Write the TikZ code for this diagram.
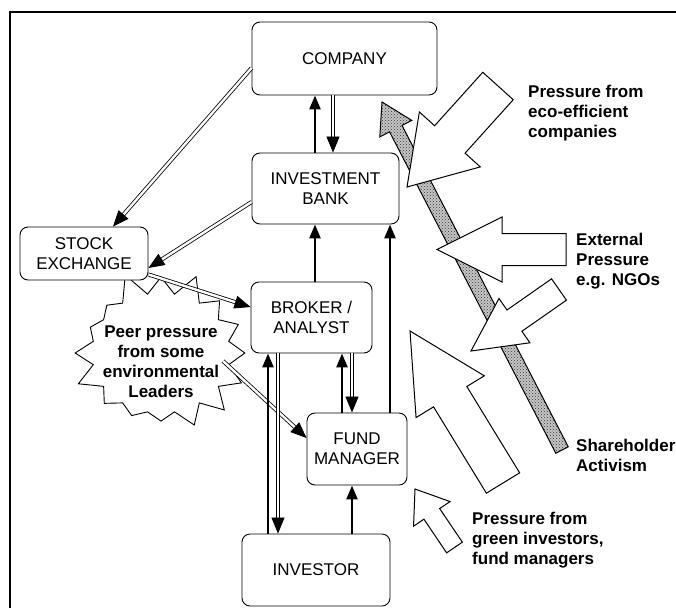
\documentclass[tikz,border=0pt]{standalone}
\usepackage{fontspec}
\setmainfont{Liberation Sans}
\usetikzlibrary{arrows.meta, shapes.symbols, positioning, calc, patterns}

\tikzset{
  box/.style={rectangle, draw, fill=white, rounded corners=8pt, line width=0.9pt, align=center, inner sep=0pt, font=\fontsize{17}{20}\selectfont},
  flow/.style={line width=2.6pt, -{Triangle[length=14pt,width=11pt]}},
  dflow/.style={double, double distance=2.4pt, line width=0.8pt, -{Triangle[length=16pt,width=13pt]}},
  blockarrow/.style={draw, fill=white, line width=1pt, line join=miter},
  activism/.style={draw, line width=1pt, preaction={fill=black!22}, pattern=crosshatch dots, pattern color=black!80},
  note/.style={align=left, inner sep=0pt, font=\bfseries\fontsize{17}{20}\selectfont},
}

% #2 tail, #3 tip, #4 half shaft, #5 half head, #6 head length
\newcommand\pressurearrow[6][blockarrow]{%
  \coordinate (hb) at ($(#3)!#6!(#2)$);
  \draw[#1] ($(#2)!#4!-90:(#3)$) -- ($(hb)!#4!90:(#2)$) -- ($(hb)!#5!90:(#2)$) -- (#3)
    -- ($(hb)!#5!-90:(#2)$) -- ($(hb)!#4!-90:(#2)$) -- ($(#2)!#4!90:(#3)$) -- cycle;
}

\begin{document}
\begin{tikzpicture}[x=1pt, y=-1pt]
  \useasboundingbox (0,0) rectangle (676,608);
  \draw[line width=1.2pt] (10,608) -- (10,12) -- (676,12);

  \node[starburst, draw, fill=white, line width=0.9pt, minimum width=190pt, minimum height=172pt,
    starburst points=16, starburst point height=26pt, random starburst=5, inner sep=0pt] (peer) at (161,353) {};
  \node[note, align=center] (peertext) at (161,361.5) {Peer pressure\\from some\\environmental\\Leaders};

  \node[box, minimum width=185pt, minimum height=73pt] (company) at (344.5,58.5) {COMPANY};
  \node[box, minimum width=147pt, minimum height=71pt] (bank) at (325.5,188.5) {INVESTMENT\\BANK};
  \node[box, minimum width=128pt, minimum height=53pt] (exchange) at (84,253.5) {STOCK\\EXCHANGE};
  \node[box, minimum width=121pt, minimum height=71pt] (broker) at (311.5,317.5) {BROKER /\\ANALYST};
  \node[box, minimum width=100pt, minimum height=72pt] (fund) at (357,449) {FUND\\MANAGER};
  \node[box, minimum width=148pt, minimum height=72pt] (investor) at (316,570) {INVESTOR};

  \draw[flow] ([xshift=-10.5pt]bank.north) -- ([xshift=-10.5pt]bank.north |- company.south);
  \draw[dflow] ([xshift=-11.5pt]company.south) -- ([xshift=-11.5pt]company.south |- bank.north);
  \draw[dflow] ([yshift=-9.5pt]company.west) -- ([xshift=29pt]exchange.north);
  \draw[dflow] ([yshift=-13.5pt]bank.west) -- ([yshift=-14.5pt]exchange.east);
  \draw[flow] ([xshift=3.5pt]broker.north) -- ([xshift=3.5pt]broker.north |- bank.south);
  \draw[flow] ([xshift=33pt]fund.north) -- ([xshift=33pt]fund.north |- bank.south);
  \draw[dflow] ([yshift=6pt]exchange.south east) -- ([yshift=10.5pt]broker.west);
  \draw[dflow] ([xshift=62pt,yshift=-8pt]peer.center) -- ([yshift=11pt]fund.west);
  \draw[flow] ([xshift=-48pt]investor.north) -- ([xshift=-48pt]investor.north |- broker.south);
  \draw[dflow] ([xshift=-33.5pt]broker.south) -- ([xshift=-33.5pt]broker.south |- investor.north);
  \draw[flow] ([xshift=-15pt]fund.north) -- ([xshift=-15pt]fund.north |- broker.south);
  \draw[dflow] ([xshift=40.5pt]broker.south) -- ([xshift=40.5pt]broker.south |- fund.north);
  \draw[flow] ([xshift=36pt]investor.north) -- ([xshift=36pt]investor.north |- fund.south);

  \pressurearrow[activism]{562,450}{382,102}{7pt}{18pt}{30pt}
  \pressurearrow{498,86}{407,187}{20.5pt}{41pt}{64pt}
  \pressurearrow{566,249.5}{437,249.5}{16pt}{32.5pt}{65pt}
  \pressurearrow{559,289.5}{471,351}{13pt}{27pt}{53pt}
  \pressurearrow{503,483}{410,331}{19.5pt}{40pt}{77pt}
  \pressurearrow{454.5,547.5}{415,489}{9.5pt}{22pt}{30pt}

  \node[note, anchor=west] (ecolabel) at (528,113) {Pressure from\\eco-efficient\\companies};
  \node[note, anchor=west] (ngolabel) at (576,261) {External\\Pressure\\e.g. NGOs};
  \node[note, anchor=west] (activismlabel) at (576,455) {Shareholder\\Activism};
  \node[note, anchor=west] (greenlabel) at (472,540) {Pressure from\\green investors,\\fund managers};
\end{tikzpicture}
\end{document}
